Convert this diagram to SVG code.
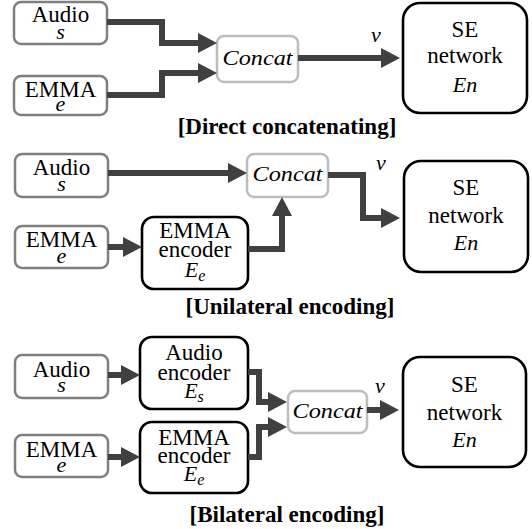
<svg xmlns="http://www.w3.org/2000/svg" width="532" height="529" viewBox="0 0 532 529">
<style>
.in{fill:#fff;stroke:#7f7f7f;stroke-width:2.5}
.cc{fill:#fff;stroke:#bdbdbd;stroke-width:2.5}
.bk{fill:#fff;stroke:#000;stroke-width:2.6}
text{font-family:'Liberation Serif','DejaVu Serif',serif;fill:#000;text-anchor:middle}
.t{font-size:23px}
.m{font-style:italic;font-size:22px}
.sub{font-size:16px}
.lb{font-weight:bold;font-size:23px}
.ar{fill:none;stroke:#404040;stroke-width:6;stroke-linejoin:miter;marker-end:url(#ah)}
</style>
<defs>
<marker id="ah" viewBox="0 0 19 20" markerWidth="19" markerHeight="20" refX="0" refY="10" orient="auto" markerUnits="userSpaceOnUse">
<path d="M0,0 L19,10 L0,20 z" fill="#404040"/>
</marker>
</defs>

<!-- Section 1: Direct concatenating -->
<g id="s1-audio"><rect class="in" x="14" y="2" width="93" height="42" rx="7"/><text class="t" x="60.5" y="22">Audio</text><text class="m" x="60.5" y="39">s</text></g>
<g id="s1-emma"><rect class="in" x="14" y="76" width="93" height="39" rx="7"/><text class="t" x="60.5" y="97">EMMA</text><text class="m" x="60.5" y="111">e</text></g>
<g id="s1-concat"><rect class="cc" x="217" y="36" width="81" height="46" rx="7"/><text class="m" x="257.5" y="65" textLength="70" lengthAdjust="spacingAndGlyphs">Concat</text></g>
<g id="s1-se"><rect class="bk" x="403" y="3" width="124" height="110" rx="17"/><text class="t" x="465" y="37">SE</text><text class="t" x="465" y="63">network</text><text class="m" x="465" y="92">En</text></g>
<text class="m" x="376" y="42">v</text>
<text class="lb" x="287" y="134">[Direct concatenating]</text>

<!-- Section 2: Unilateral encoding -->
<g id="s2-audio"><rect class="in" x="15" y="154" width="93" height="43" rx="7"/><text class="t" x="61.5" y="175">Audio</text><text class="m" x="61.5" y="191">s</text></g>
<g id="s2-emma"><rect class="in" x="15" y="226" width="93" height="42" rx="7"/><text class="t" x="61.5" y="247">EMMA</text><text class="m" x="61.5" y="263">e</text></g>
<g id="s2-emma-enc"><rect class="bk" x="142" y="217" width="106" height="72" rx="12"/><text class="t" x="195" y="238">EMMA</text><text class="t" x="195" y="257">encoder</text><text class="m" x="195" y="277">E<tspan class="sub" dy="4">e</tspan></text></g>
<g id="s2-concat"><rect class="cc" x="247" y="154" width="81" height="43" rx="7"/><text class="m" x="287.5" y="181" textLength="70" lengthAdjust="spacingAndGlyphs">Concat</text></g>
<g id="s2-se"><rect class="bk" x="404" y="161" width="124" height="111" rx="17"/><text class="t" x="466" y="195">SE</text><text class="t" x="466" y="223">network</text><text class="m" x="466" y="250">En</text></g>
<text class="m" x="381" y="170">v</text>
<text class="lb" x="290" y="314">[Unilateral encoding]</text>

<!-- Section 3: Bilateral encoding -->
<g id="s3-audio"><rect class="in" x="15" y="355" width="93" height="43" rx="7"/><text class="t" x="61.5" y="377">Audio</text><text class="m" x="61.5" y="392">s</text></g>
<g id="s3-emma"><rect class="in" x="15" y="435" width="93" height="42" rx="7"/><text class="t" x="61.5" y="457">EMMA</text><text class="m" x="61.5" y="472">e</text></g>
<g id="s3-audio-enc"><rect class="bk" x="140" y="337" width="108" height="72" rx="12"/><text class="t" x="194" y="360">Audio</text><text class="t" x="194" y="380">encoder</text><text class="m" x="194" y="398">E<tspan class="sub" dy="4">s</tspan></text></g>
<g id="s3-emma-enc"><rect class="bk" x="140" y="422" width="108" height="71" rx="12"/><text class="t" x="194" y="445">EMMA</text><text class="t" x="194" y="463">encoder</text><text class="m" x="194" y="481">E<tspan class="sub" dy="4">e</tspan></text></g>
<g id="s3-concat"><rect class="cc" x="288" y="391" width="79" height="42" rx="7"/><text class="m" x="327.5" y="418" textLength="70" lengthAdjust="spacingAndGlyphs">Concat</text></g>
<g id="s3-se"><rect class="bk" x="403" y="357" width="123" height="110" rx="17"/><text class="t" x="464.5" y="392">SE</text><text class="t" x="464.5" y="420">network</text><text class="m" x="464.5" y="447">En</text></g>
<text class="m" x="380" y="393">v</text>
<text class="lb" x="287" y="522">[Bilateral encoding]</text>

<g id="connectors">
<path class="ar" d="M107,22 H162 V43 H198"/>
<path class="ar" d="M107,95 H162 V73 H198"/>
<path class="ar" d="M298,58 H381"/>
<path class="ar" d="M108,173 H228"/>
<path class="ar" d="M328,175 H363 V218 H381"/>
<path class="ar" d="M108,247 H123"/>
<path class="ar" d="M248,249 H282 V216"/>
<path class="ar" d="M108,375 H121"/>
<path class="ar" d="M108,457 H121"/>
<path class="ar" d="M248,372 H259 V402 H268"/>
<path class="ar" d="M248,457 H259 V427 H268"/>
<path class="ar" d="M367,410 H380"/>
</g>
</svg>
